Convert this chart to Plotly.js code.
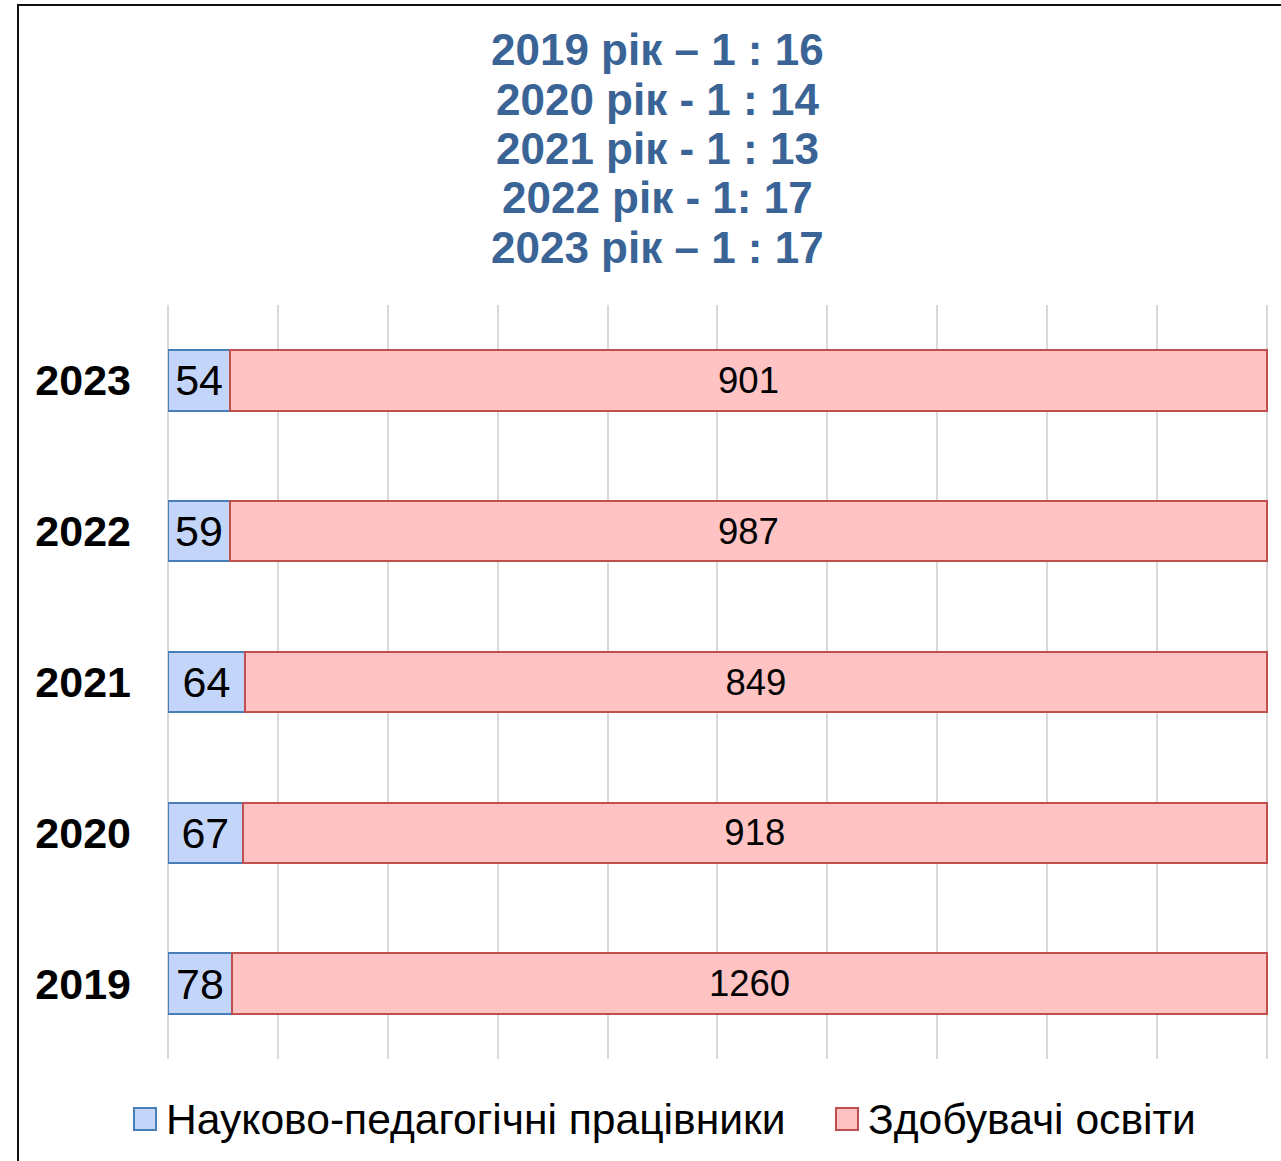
<!DOCTYPE html>
<html>
<head>
<meta charset="utf-8">
<script src="https://cdn.plot.ly/plotly-3.0.1.min.js"></script>
<style>
  html, body { margin: 0; padding: 0; background: #fff; }
  #wrap { position: relative; width: 1281px; height: 1161px; overflow: hidden; }
  #chart { position: absolute; left: 0; top: 0; width: 1281px; height: 1161px; }
  #frame { position: absolute; left: 17px; top: 4px; width: 1300px; height: 1200px;
           border-left: 2px solid #111; border-top: 2px solid #111; pointer-events: none; }
</style>
</head>
<body>
<div id="wrap">
  <div id="chart"></div>
  <div id="frame"></div>
</div>
<script>
const years = ['2019', '2020', '2021', '2022', '2023'];
const staff = [78, 67, 64, 59, 54];
const students = [1260, 918, 849, 987, 901];
const seriesNames = ['Науково-педагогічні працівники', 'Здобувачі освіти'];
const titleLines = ['2019 рік – 1 : 16', '2020 рік - 1 : 14', '2021 рік - 1 : 13', '2022 рік - 1: 17', '2023 рік – 1 : 17'];

const FONT = 'Arial, Liberation Sans, sans-serif';
const blueFill = '#c3d5f8', blueLine = '#4a7ebb';
const redFill = '#ffc3c3', redLine = '#c0504d';

// plot area in pixels: x 168..1268, y 305..1059
const PL = 168, PR = 1268, PT = 305, PB = 1059;
const px2x = p => (p - PL) / (PR - PL);
const py2y = p => (PB - p) / (PB - PT);

const traces = [
  {
    type: 'bar', orientation: 'h', name: seriesNames[0],
    y: years, x: staff, text: staff.map(String),
    textposition: 'inside', insidetextanchor: 'middle', textangle: 0, constraintext: 'none',
    textfont: { family: FONT, size: 43, color: '#000' },
    marker: { color: blueFill, line: { color: blueLine, width: 2 } },
    hoverinfo: 'none'
  },
  {
    type: 'bar', orientation: 'h', name: seriesNames[1],
    y: years, x: students, text: students.map(String),
    textposition: 'inside', insidetextanchor: 'middle', textangle: 0, constraintext: 'none',
    textfont: { family: FONT, size: 36.5, color: '#000' },
    marker: { color: redFill, line: { color: redLine, width: 2 } },
    hoverinfo: 'none'
  }
];

const annotations = titleLines.map((t, i) => ({
  text: '<b>' + t + '</b>', xref: 'paper', yref: 'paper',
  x: px2x(657), y: py2y(50 + i * 49.3), xanchor: 'center', yanchor: 'middle',
  showarrow: false, font: { family: FONT, size: 44, color: '#3a6496' }
}));
// legend texts
annotations.push({
  text: seriesNames[0], xref: 'paper', yref: 'paper', x: px2x(164), y: py2y(1119),
  xanchor: 'left', yanchor: 'middle', showarrow: false, font: { family: FONT, size: 42.6, color: '#000' }
});
annotations.push({
  text: seriesNames[1], xref: 'paper', yref: 'paper', x: px2x(866), y: py2y(1119),
  xanchor: 'left', yanchor: 'middle', showarrow: false, font: { family: FONT, size: 42.6, color: '#000' }
});

const shapes = [
  { type: 'rect', xref: 'paper', yref: 'paper', x0: px2x(134), x1: px2x(156), y0: py2y(1130), y1: py2y(1108),
    fillcolor: blueFill, line: { color: blueLine, width: 2 } },
  { type: 'rect', xref: 'paper', yref: 'paper', x0: px2x(836), x1: px2x(858), y0: py2y(1130), y1: py2y(1108),
    fillcolor: redFill, line: { color: redLine, width: 2 } }
];

const layout = {
  width: 1281, height: 1161,
  margin: { l: PL, r: 1281 - PR, t: PT, b: 1161 - PB },
  paper_bgcolor: '#ffffff', plot_bgcolor: '#ffffff',
  barmode: 'stack', barnorm: 'percent', bargap: 0.6,
  font: { family: FONT, color: '#000' },
  xaxis: {
    range: [0, 100.1], dtick: 10, showgrid: true, gridcolor: '#d9d9d9', gridwidth: 2,
    zeroline: true, zerolinecolor: '#d9d9d9', zerolinewidth: 2,
    showticklabels: false, showline: false, ticks: '', fixedrange: true
  },
  yaxis: {
    type: 'category', categoryorder: 'array', categoryarray: years,
    showgrid: false, zeroline: false, showline: false, ticks: '',
    tickfont: { family: FONT, size: 43, color: '#000', weight: 700 },
    ticklabelstandoff: 36, fixedrange: true
  },
  showlegend: false,
  annotations: annotations,
  shapes: shapes
};

Plotly.newPlot('chart', traces, layout, { displayModeBar: false, staticPlot: true });
</script>
</body>
</html>
